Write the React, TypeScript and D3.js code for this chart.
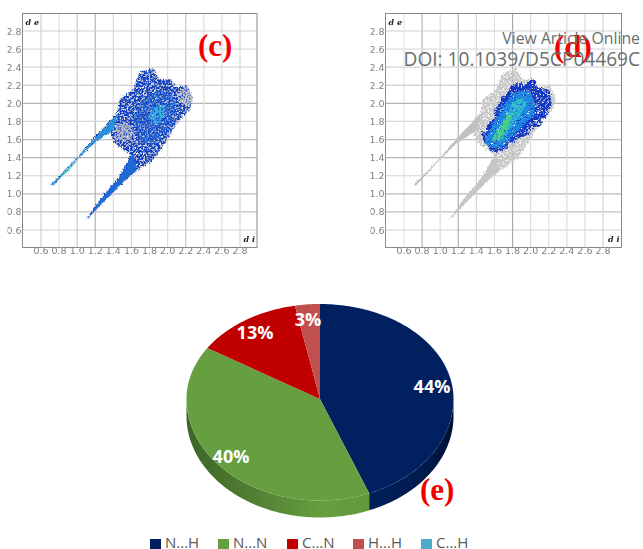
import * as d3 from 'd3';

const WIDTH = 643;
const HEIGHT = 549;

// fingerprint axes
const axisTicks = [0.6, 0.8, 1.0, 1.2, 1.4, 1.6, 1.8, 2.0, 2.2, 2.4, 2.6, 2.8];
const gridGreysC = ['#cfcfcf', '#e2e2e2', '#cccccc', '#b4b4b4', '#d8d8d8', '#d4d4d4', '#d0d0d0', '#dcdcdc', '#c4c4c4', '#dedede', '#dedede', '#d6d6d6'];
const gridGreysD = ['#e4e4e4', '#b4b4b4', '#dcdcdc', '#b0b0b0', '#d4d4d4', '#e0e0e0', '#a8a8a8', '#dcdcdc', '#e2e2e2', '#dcdcdc', '#dcdcdc', '#d4d4d4'];
const rowGreys = ['#cfcfcf', '#c0c0c0', '#b8b8b8', '#d4d4d4', '#b4b4b4', '#c0c0c0', '#d8d8d8', '#b4b4b4', '#c4c4c4', '#d4d4d4', '#dcdcdc', '#cfcfcf'];

type Pt = [number, number];

// outlines, as [di, de]
const hullOutline: Pt[] = [
    [0.71, 1.1], [0.98, 1.37], [1.22, 1.65], [1.45, 1.89], [1.47, 2.04], [1.62, 2.15], [1.69, 2.33], [1.84, 2.39],
    [1.91, 2.26], [2.04, 2.26], [2.1, 2.17], [2.21, 2.2], [2.28, 2.07], [2.25, 1.94], [2.1, 1.78], [1.99, 1.59],
    [1.84, 1.37], [1.66, 1.26], [1.51, 1.13], [1.29, 0.91], [1.1, 0.71], [1.25, 0.93], [1.47, 1.19], [1.6, 1.43],
    [1.42, 1.56], [1.36, 1.69], [1.18, 1.56], [0.96, 1.34], [0.74, 1.1],
];
const leftSpike: Pt[] = [[0.71, 1.1], [0.98, 1.37], [1.22, 1.65], [1.45, 1.89], [1.4, 1.7], [1.18, 1.56], [0.96, 1.34], [0.74, 1.1]];
const rightSpike: Pt[] = [[1.1, 0.71], [1.29, 0.91], [1.51, 1.13], [1.66, 1.26], [1.62, 1.45], [1.47, 1.19], [1.25, 0.93]];
const leftTip: Pt[] = [[0.73, 1.11], [0.9, 1.27], [1.02, 1.39], [0.9, 1.25]];
const rightTip: Pt[] = [[1.11, 0.72], [1.24, 0.88], [1.34, 0.99], [1.2, 0.83]];
const greyPatchLeft: Pt[] = [[1.42, 1.6], [1.45, 1.76], [1.58, 1.77], [1.63, 1.62], [1.5, 1.57]];
const greyPatchRight: Pt[] = [[2.12, 2.12], [2.22, 2.18], [2.28, 2.05], [2.22, 1.96], [2.14, 2.02]];
const midPatchC: Pt[] = [[1.68, 1.6], [1.66, 1.95], [1.88, 2.14], [2.08, 2.06], [2.08, 1.82], [1.88, 1.55]];
const corePatchC: Pt[] = [[1.8, 1.82], [1.86, 1.96], [1.96, 1.98], [1.98, 1.88], [1.9, 1.78]];
const blobOutline: Pt[] = [
    [1.46, 1.63], [1.59, 1.85], [1.66, 2.02], [1.74, 2.12], [1.81, 2.22], [1.92, 2.2], [2.03, 2.26], [2.1, 2.16], [2.18, 2.19], [2.25, 2.05], [2.21, 1.89],
    [2.07, 1.76], [1.92, 1.63], [1.77, 1.54], [1.66, 1.45], [1.53, 1.5],
];
const midPatchD: Pt[] = [[1.5, 1.6], [1.62, 1.82], [1.78, 2.08], [1.98, 2.14], [2.04, 1.9], [1.86, 1.7], [1.68, 1.52], [1.54, 1.52]];
const corePatchD: Pt[] = [[1.58, 1.6], [1.72, 1.84], [1.84, 2.04], [1.96, 2.02], [1.84, 1.8], [1.68, 1.6]];
const greenPatchD: Pt[] = [[1.6, 1.6], [1.66, 1.74], [1.8, 1.9], [1.74, 1.74], [1.66, 1.6]];

// pie
const pieLabels = ['N...H', 'N...N', 'C...N', 'H...H', 'C...H'];
const pieValues = [44, 40, 13, 3, 0];
const pieColors = ['#002060', '#669f3f', '#c00000', '#c0504d', '#4bacc6'];
const pieTexts = ['44%', '40%', '13%', '3%'];
const legendX = [150, 218, 287, 353, 421];

const x0c = d3.scaleLinear().domain([0.6, 2.8]).range([41, 240]);
const x0d = d3.scaleLinear().domain([0.6, 2.8]).range([404, 603]);
const yScale = d3.scaleLinear().domain([0.6, 2.8]).range([230, 31]);

function Fingerprint({ x, frame, greys, id }: { x: d3.ScaleLinear<number, number>; frame: [number, number]; greys: string[]; id: string }) {
    const outline = d3.line<Pt>().x(d => x(d[0])).y(d => yScale(d[1])).curve(d3.curveLinearClosed);
    const smooth = d3.line<Pt>().x(d => x(d[0])).y(d => yScale(d[1])).curve(d3.curveCatmullRomClosed);
    const isC = id === 'c';

    return (
        <g>
            <clipPath id={`labels-${id}`}>
                <rect x={frame[0] - 15} y={0} width={frame[1] - frame[0] + 30} height={260} />
            </clipPath>
            <g filter="url(#soft)">
                {axisTicks.map((t, i) => (
                    <g key={t}>
                        <line x1={x(t)} x2={x(t)} y1={13} y2={247} stroke={greys[i]} strokeWidth={1.2} />
                        <line x1={frame[0]} x2={frame[1]} y1={yScale(t)} y2={yScale(t)} stroke={rowGreys[i]} strokeWidth={1.2} />
                    </g>
                ))}
                <rect x={frame[0]} y={13.5} width={frame[1] - frame[0]} height={234} fill="none" stroke="#8a8a8a" strokeWidth={1} />
                <g clipPath={`url(#labels-${id})`} fontFamily="DejaVu Sans" fontSize={9.5} fill="#808080">
                    {axisTicks.map(t => (
                        <text key={t} x={x(t)} y={254} textAnchor="middle">{t.toFixed(1)}</text>
                    ))}
                    {axisTicks.map(t => (
                        <text key={t} x={frame[0] - 1} y={yScale(t) + 3.5} textAnchor="end">{t.toFixed(1)}</text>
                    ))}
                </g>
                <text x={frame[0] + 3} y={25} fontFamily="DejaVu Serif" fontWeight="bold" fontStyle="italic" fontSize={8} fill="#222">d e</text>
                <text x={frame[1] - 2} y={242} textAnchor="end" fontFamily="DejaVu Serif" fontWeight="bold" fontStyle="italic" fontSize={8} fill="#222">d i</text>
            </g>

            {isC ? (
                <g>
                    <path d={outline(hullOutline)!} fill="#bdbdc6" filter="url(#speckleD)" />
                    <path d={outline(hullOutline)!} fill="#1040c4" filter="url(#speckleB)" />
                    <path d={smooth(greyPatchLeft)!} fill="#b8b8c4" filter="url(#speckle)" />
                    <path d={smooth(greyPatchRight)!} fill="#c2c2c8" filter="url(#speckle)" />
                    <path d={smooth(midPatchC)!} fill="#1a66d8" filter="url(#speckle)" opacity={0.7} />
                    <path d={smooth(corePatchC)!} fill="#30b4e4" filter="url(#speckle)" />
                    <path d={outline(leftSpike)!} fill="#2a90d8" filter="url(#dense)" />
                    <path d={outline(rightSpike)!} fill="#1c68d4" filter="url(#dense)" />
                    <path d={outline(leftTip)!} fill="#3cc4b4" filter="url(#soft)" />
                    <path d={outline(rightTip)!} fill="#3cc4b4" filter="url(#soft)" />
                </g>
            ) : (
                <g>
                    <path d={outline(hullOutline)!} fill="#c8c8c8" filter="url(#speckleD)" />
                    <path d={outline(leftSpike)!} fill="#c0c0c0" filter="url(#soft)" />
                    <path d={outline(rightSpike)!} fill="#c6c6c6" filter="url(#dense)" />
                    <g filter="url(#lumpy)">
                        <path d={outline(blobOutline)!} fill="#1238c8" filter="url(#speckleD)" />
                    </g>
                    <path d={smooth(midPatchD)!} fill="#1e8ce0" filter="url(#speckleD)" />
                    <path d={smooth(corePatchD)!} fill="#30c4c8" filter="url(#speckle)" />
                    <path d={smooth(greenPatchD)!} fill="#4ed07c" filter="url(#speckleD)" />
                </g>
            )}
        </g>
    );
}

function Pie3D() {
    const cx = 320;
    const cy = 399;
    const depth = 17;
    const px = d3.scaleLinear().domain([-1, 1]).range([cx - 133.5, cx + 133.5]);
    const py = d3.scaleLinear().domain([-1, 0, 1]).range([cy + 101.5, cy, cy - 95]);
    const arcs = d3.pie<number>().sort(null)(pieValues);

    const rim = (a0: number, a1: number) => {
        const steps = d3.range(a0, a1, 0.02).concat(a1);
        return steps.map(a => [px(Math.sin(a)), py(Math.cos(a))] as Pt);
    };
    const wall = (a0: number, a1: number) => {
        const top = rim(a0, a1);
        const bottom = top.map(p => [p[0], p[1] + depth] as Pt).reverse();
        return d3.line()([...top, ...bottom]) + 'Z';
    };
    const half = Math.PI / 2;

    return (
        <g>
            <path d={wall(Math.max(arcs[0].startAngle, half), arcs[0].endAngle)} fill="url(#navySide)" />
            <path d={wall(arcs[1].startAngle, half * 3)} fill="url(#greenSide)" />
            {arcs.map((a, i) =>
                a.value > 0 ? (
                    <path key={i} d={d3.line()([[cx, cy], ...rim(a.startAngle, a.endAngle)]) + 'Z'} fill={pieColors[i]} />
                ) : null,
            )}
            <g fontFamily="Open Sans" fontWeight="bold" fontSize={18} fill="#fff" textAnchor="middle">
                {pieTexts.map((t, i) => {
                    const at = [[432, 392.5], [231, 463], [255, 339], [308, 326]][i];
                    return <text key={t} x={at[0]} y={at[1]}>{t}</text>;
                })}
            </g>
        </g>
    );
}

const speckleFilter = (id: string, freq: number, seed: number, cut: number, scale: number) => (
    <filter id={id} x="-8%" y="-8%" width="116%" height="116%" colorInterpolationFilters="sRGB">
        <feTurbulence type="fractalNoise" baseFrequency={freq} numOctaves={2} seed={seed} result="n" />
        <feDisplacementMap in="SourceGraphic" in2="n" scale={scale} xChannelSelector="R" yChannelSelector="G" result="d" />
        <feColorMatrix in="n" type="matrix" values={`0 0 0 0 0  0 0 0 0 0  0 0 0 0 0  7 0 0 0 ${cut}`} result="m" />
        <feComposite in="d" in2="m" operator="in" />
        <feGaussianBlur stdDeviation="0.4" />
    </filter>
);

export default function App() {
    return (
        <svg width={WIDTH} height={HEIGHT} viewBox={`0 0 ${WIDTH} ${HEIGHT}`} style={{ position: 'fixed', left: 0, top: 0, display: 'block', background: '#fff' }}>
            <defs>
                <filter id="soft" x="-10%" y="-10%" width="120%" height="120%" colorInterpolationFilters="sRGB">
                    <feGaussianBlur stdDeviation="0.45" />
                </filter>
                <filter id="lumpy" x="-10%" y="-10%" width="120%" height="120%" colorInterpolationFilters="sRGB">
                    <feTurbulence type="fractalNoise" baseFrequency="0.14" numOctaves={2} seed={5} result="l" />
                    <feDisplacementMap in="SourceGraphic" in2="l" scale={9} xChannelSelector="R" yChannelSelector="G" />
                </filter>
                {speckleFilter('speckle', 0.5, 4, -2.8, 7)}
                {speckleFilter('speckleB', 0.55, 11, -2.7, 7)}
                {speckleFilter('speckleD', 0.6, 7, -2.2, 7)}
                {speckleFilter('dense', 0.6, 9, -1.2, 3)}
                <linearGradient id="greenSide" gradientUnits="userSpaceOnUse" x1={186} x2={370} y1={0} y2={0}>
                    <stop offset="0" stopColor="#3c6426" />
                    <stop offset="0.45" stopColor="#568636" />
                    <stop offset="0.75" stopColor="#669f3f" />
                    <stop offset="1" stopColor="#62983c" />
                </linearGradient>
                <linearGradient id="navySide" gradientUnits="userSpaceOnUse" x1={370} x2={453} y1={0} y2={0}>
                    <stop offset="0" stopColor="#001f5c" />
                    <stop offset="0.7" stopColor="#001a4c" />
                    <stop offset="1" stopColor="#000f30" />
                </linearGradient>
            </defs>

            <Fingerprint x={x0c} frame={[22.5, 257]} greys={gridGreysC} id="c" />
            <Fingerprint x={x0d} frame={[385.5, 621.5]} greys={gridGreysD} id="d" />

            <g fontFamily="Liberation Serif" fontWeight="bold" fontSize={31} fill="#f00000">
                <text x={198} y={56}>(c)</text>
                <text x={554} y={57}>(d)</text>
            </g>
            <g fontFamily="Open Sans" fill="#6a7070" textAnchor="end">
                <text x={640} y={44} fontSize={15.8}>View Article Online</text>
                <text x={640} y={66} fontSize={19.1}>DOI: 10.1039/D5CP04469C</text>
            </g>

            <Pie3D />
            <text x={420} y={500} fontFamily="Liberation Serif" fontWeight="bold" fontSize={31} fill="#f00000">(e)</text>

            <g fontFamily="Open Sans" fontSize={15} fill="#595959">
                {pieLabels.map((name, i) => (
                    <g key={name}>
                        <rect x={legendX[i]} y={539} width={11} height={10} fill={pieColors[i]} />
                        <text x={legendX[i] + 15} y={548}>{name}</text>
                    </g>
                ))}
            </g>
        </svg>
    );
}
